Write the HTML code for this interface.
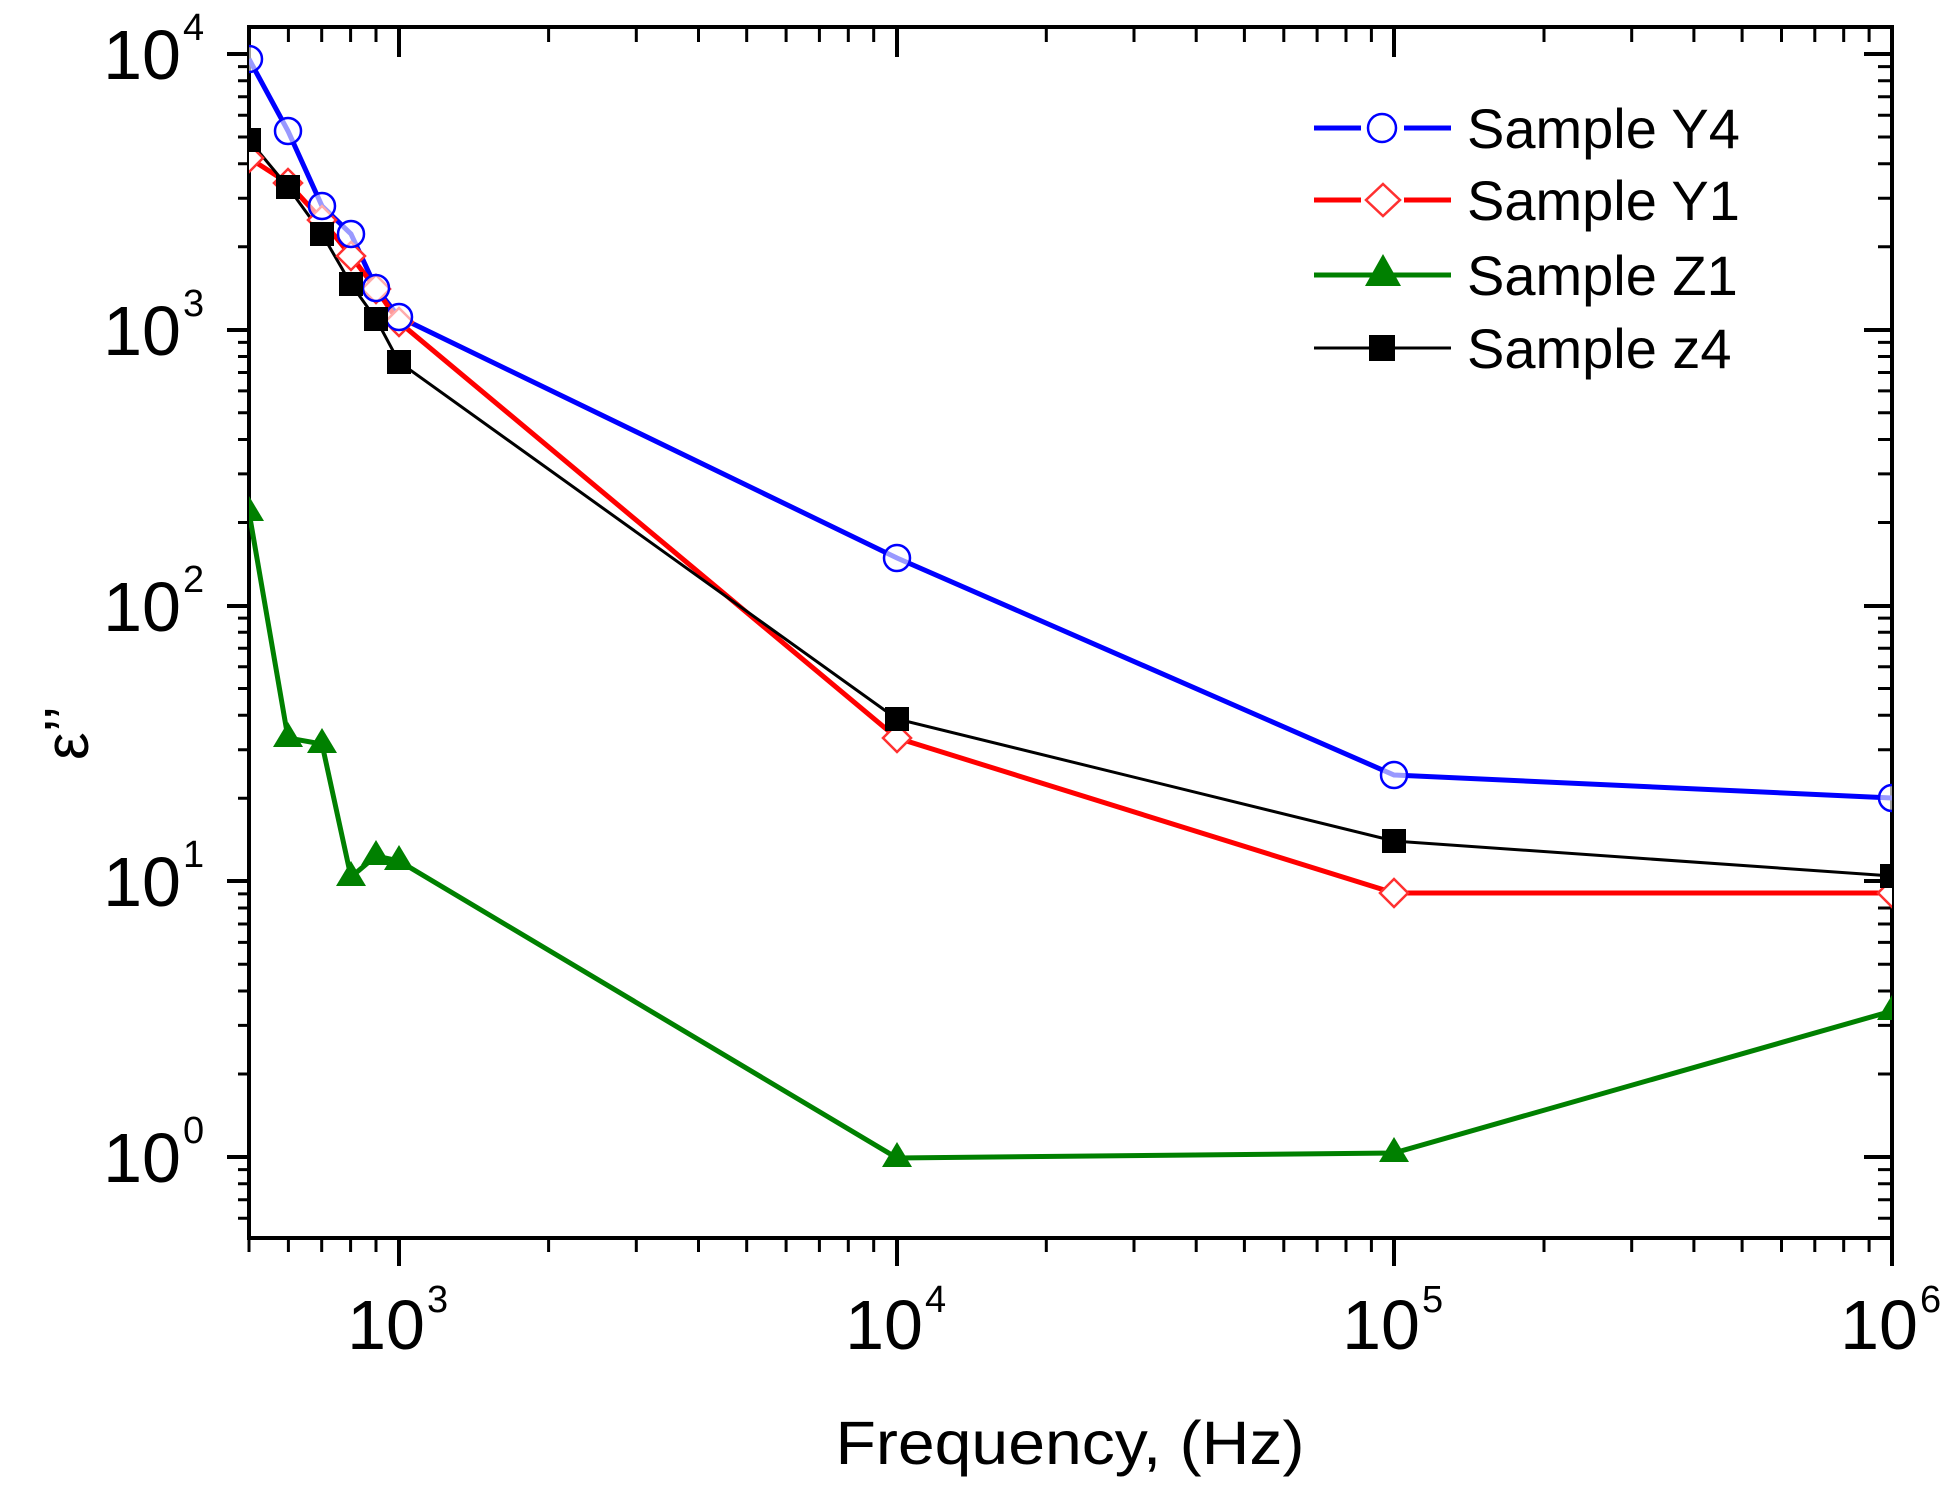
<!DOCTYPE html>
<html><head><meta charset="utf-8"><style>html,body{margin:0;padding:0;background:#fff}svg{display:block}</style></head>
<body>
<svg width="1953" height="1487" viewBox="0 0 1953 1487" xmlns="http://www.w3.org/2000/svg" font-family="Liberation Sans, Arial, sans-serif">
<rect width="1953" height="1487" fill="#fff"/>
<defs><clipPath id="c"><rect x="249" y="27" width="1643" height="1211"/></clipPath></defs>
<g stroke="#000" stroke-width="4" fill="none">
<rect x="249" y="27" width="1643" height="1211"/>
<!-- y major ticks left (outward) and right (inward) -->
<path d="M227 54H249M227 330H249M227 606H249M227 881H249M227 1157H249"/>
<path d="M1892 54H1864M1892 330H1864M1892 606H1864M1892 881H1864M1892 1157H1864"/>
<!-- x major ticks bottom outward, top inward -->
<path d="M399 1238V1266M897 1238V1266M1394 1238V1266M1892 1238V1266"/>
<path d="M399 27V57M897 27V57M1394 27V57"/>
</g>
<g stroke="#000" stroke-width="3" fill="none" id="minor"></g>
<script>
(function(){
var g=document.getElementById('minor'),d='';
function X(l){return 249+(l-2.699)*497.7}
function Y(l){return 1157-l*275.75}
for(var e=-1;e<5;e++)for(var k=2;k<10;k++){var l=e+Math.log10(k);if(l<-0.29||l>4.09)continue;var y=Y(l).toFixed(1);d+='M238 '+y+'H249M1892 '+y+'H1878';}
for(var e=2;e<6;e++)for(var k=2;k<10;k++){var l=e+Math.log10(k);if(l<2.69||l>6)continue;var x=X(l).toFixed(1);d+='M'+x+' 1238V1252M'+x+' 27V42';}
g.setAttribute('d',d);var p=document.createElementNS('http://www.w3.org/2000/svg','path');p.setAttribute('d',d);g.appendChild(p);
})();
</script>
<!-- y tick labels -->
<g font-size="70" fill="#000">
<text x="181" y="79" text-anchor="end">10</text><text x="183" y="40" font-size="38">4</text>
<text x="181" y="355" text-anchor="end">10</text><text x="183" y="316" font-size="38">3</text>
<text x="181" y="631" text-anchor="end">10</text><text x="183" y="592" font-size="38">2</text>
<text x="181" y="906" text-anchor="end">10</text><text x="183" y="867" font-size="38">1</text>
<text x="181" y="1182" text-anchor="end">10</text><text x="183" y="1143" font-size="38">0</text>
</g>
<!-- x tick labels -->
<g font-size="70" fill="#000">
<text x="425" y="1349" text-anchor="end">10</text><text x="427" y="1312" font-size="38">3</text>
<text x="923" y="1349" text-anchor="end">10</text><text x="925" y="1312" font-size="38">4</text>
<text x="1420" y="1349" text-anchor="end">10</text><text x="1422" y="1312" font-size="38">5</text>
<text x="1918" y="1349" text-anchor="end">10</text><text x="1920" y="1312" font-size="38">6</text>
</g>
<text x="1070" y="1464" font-size="61" text-anchor="middle" textLength="469" lengthAdjust="spacingAndGlyphs">Frequency, (Hz)</text>
<text transform="translate(88,760) rotate(-90)" font-size="62">ε’’</text>
<g clip-path="url(#c)">
<!-- Blue Y4 -->
<polyline fill="none" stroke="#0000ff" stroke-width="5" points="249,59 288,131 322,206 351,234 376,288 399,317 897,558 1394,775 1892,798"/>
<!-- Red Y1 -->
<polyline fill="none" stroke="#ff0000" stroke-width="5" points="249,158 288,183 322,220 351,256 376,289 399,322 897,738 1394,893 1892,893"/>
<!-- Black z4 -->
<polyline fill="none" stroke="#000" stroke-width="3" points="249,140 288,187 322,234 351,284 376,319 399,362 897,719 1394,841 1892,876"/>
<!-- Green Z1 -->
<polyline fill="none" stroke="#008000" stroke-width="5" points="249,512 288,738 322,744 351,877 376,856 399,861 897,1158 1394,1153 1892,1011"/>
<g fill="#fff" stroke="#ff3030" stroke-width="2.5">
<path d="M249 144l14 14-14 14-14-14z"/><path d="M288 169l14 14-14 14-14-14z"/><path d="M322 206l14 14-14 14-14-14z"/><path d="M351 242l14 14-14 14-14-14z"/><path d="M376 275l14 14-14 14-14-14z"/><path d="M399 308l14 14-14 14-14-14z"/><path d="M897 724l14 14-14 14-14-14z"/><path d="M1394 879l14 14-14 14-14-14z"/><path d="M1892 879l14 14-14 14-14-14z"/>
</g>
<g fill="#fff" fill-opacity="0.6" stroke="#0000ff" stroke-width="2.5">
<circle cx="249" cy="59" r="13"/><circle cx="288" cy="131" r="13"/><circle cx="322" cy="206" r="13"/><circle cx="351" cy="234" r="13"/><circle cx="376" cy="288" r="13"/><circle cx="399" cy="317" r="13"/><circle cx="897" cy="558" r="13"/><circle cx="1394" cy="775" r="13"/><circle cx="1892" cy="798" r="13"/>
</g>
<g fill="#000">
<rect x="237" y="128" width="24" height="24"/><rect x="276" y="175" width="24" height="24"/><rect x="310" y="222" width="24" height="24"/><rect x="339" y="272" width="24" height="24"/><rect x="364" y="307" width="24" height="24"/><rect x="387" y="350" width="24" height="24"/><rect x="885" y="707" width="24" height="24"/><rect x="1382" y="829" width="24" height="24"/><rect x="1880" y="864" width="24" height="24"/>
</g>
<g fill="#008000">
<path d="M249 496l15 25h-30z"/><path d="M288 722l15 25h-30z"/><path d="M322 728l15 25h-30z"/><path d="M351 861l15 25h-30z"/><path d="M376 840l15 25h-30z"/><path d="M399 845l15 25h-30z"/><path d="M897 1142l15 25h-30z"/><path d="M1394 1137l15 25h-30z"/><path d="M1892 995l15 25h-30z"/>
</g>
</g>
<!-- Legend -->
<g>
<path d="M1314 128H1361M1404 128H1451" stroke="#0000ff" stroke-width="5"/>
<circle cx="1382" cy="128" r="14" fill="#fff" stroke="#0000ff" stroke-width="2.5"/>
<path d="M1314 200H1361M1404 200H1451" stroke="#ff0000" stroke-width="5"/>
<path d="M1383 184l17 16-17 16-17-16z" fill="#fff" stroke="#ff3030" stroke-width="2.5"/>
<path d="M1314 275H1451" stroke="#008000" stroke-width="5"/>
<path d="M1383 254l18 32h-36z" fill="#008000"/>
<path d="M1314 348H1451" stroke="#000" stroke-width="3"/>
<rect x="1369" y="335" width="26" height="26" fill="#000"/>
<g font-size="56" fill="#000">
<text x="1467" y="148">Sample Y4</text>
<text x="1467" y="220">Sample Y1</text>
<text x="1467" y="295">Sample Z1</text>
<text x="1467" y="368">Sample z4</text>
</g>
</g>
</svg>
</body></html>
